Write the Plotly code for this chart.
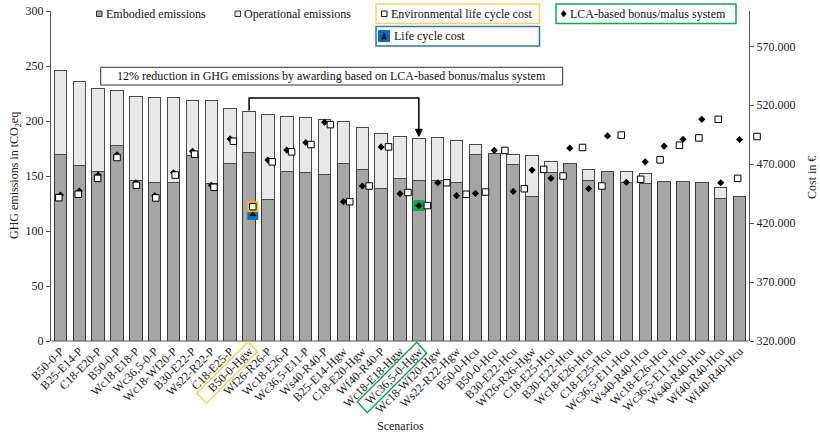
import plotly.graph_objects as go

# ---------------- data ----------------
scenarios = ["B50-0-P", "B25-E14-P", "C18-E20-P", "B50-0-P", "Wc18-E18-P", "Wc36,5-0-P",
             "Wc18-Wf20-P", "B30-E22-P", "Ws22-R22-P", "C18-E25-P", "B50-0-Hgw", "Wf26-R26-P",
             "Wc18-E26-P", "Wc36,5-E11-P", "Ws40-R40-P", "B25-E14-Hgw", "C18-E20-Hgw",
             "Wf40-R40-P", "Wc18-E18-Hgw", "Wc36,5-0-Hgw", "Wc18-Wf20-Hgw", "Ws22-R22-Hgw",
             "B50-0-Hcu", "B50-0-Hcu", "B30-E22-Hcu", "Wf26-R26-Hgw", "C18-E25-Hcu",
             "B30-E22-Hcu", "Wc18-E26-Hcu", "C18-E25-Hcu", "Wc36,5-E11-Hcu", "Ws40-R40-Hcu",
             "Wc18-E26-Hcu", "Wc36,5-E11-Hcu", "Ws40-R40-Hcu", "Wf40-R40-Hcu", "Wf40-R40-Hcu"]

embodied = [169.6, 160, 154, 178, 146, 144.5, 144.5, 169, 143.3, 161.4,
            171.4, 129, 154, 153, 151.5, 161.4, 156.3, 138.5, 148, 146.3,
            146.3, 144.5, 169.6, 170.5, 160.5, 131.6, 153.3, 161, 145.7, 154.2,
            143.9, 143.3, 144.8, 144.8, 143.9, 129.8, 131.2]

operational = [76.5, 76, 76, 50, 76.5, 76.5, 76.5, 50, 75.7, 50.4,
               37.6, 76.8, 50.5, 50, 50.3, 38.3, 37.4, 50.1, 38, 37.7,
               38.3, 38, 9.4, 0, 8.7, 37.4, 9.7, 0, 10, 0,
               10, 9.1, 0, 0, 0, 9.9, 0]

bonus_malus = [443900, 447300, 460800, 477900, 454300, 443300, 462700, 481000, 452100, 491500,
               None, 473500, 482000, 488400, 505600, 438200, 451500, 484700, 445000, 434900,
               454300, 443300, 445300, 481700, 446900, 465000, 458000, 483600, 449200, 494000,
               454600, 472000, 485300, 491200, 508100, 454300, 490900]

env_lcc = [441600, 444500, 458000, 475700, 452100, 441400, 460800, 478500, 450400, 489500,
           434000, 472000, 480500, 486700, 503600, 438200, 451500, 484700, 446000, 434900,
           454300, 444500, 446400, 481700, 449200, 465600, 460000, 484200, 451500, 494700,
           457200, 473700, 486100, 492300, 508100, 458000, 493500]

lcc = [None] * 10 + [427400] + [None] * 26

cost_ticks = [320000, 370000, 420000, 470000, 520000, 570000]
cost_ticktext = ["320.000", "370.000", "420.000", "470.000", "520.000", "570.000"]
ghg_ticks = [0, 50, 100, 150, 200, 250, 300]

elcc_pick = 10   # B50-0-Hgw
bm_pick = 19     # Wc36,5-0-Hgw

# ---------------- figure ----------------
FONT = "Liberation Serif"
W, H = 820, 433
L, T, B = 51, 11, 92
AX_RIGHT = 749          # pixel of the right value axis
R = 50                  # plot area extends a bit past the right axis (room for the last marker)
PW, PH = W - L - R, H - T - B
stretch = PW / (AX_RIGHT - L)
bar_dom = 1 / stretch

def px(x):
    return (x - L) / PW

def py(y):
    return (H - B - y) / PH

idx = list(range(len(scenarios)))
n = len(scenarios)

# category axis for bars, extended so bars keep their slot width up to the right axis
x_lo = -0.5
x_hi = x_lo + n * stretch
# secondary x scale for the cost squares (slightly stretched relative to the bars)
x2_lo, x2_span = -0.4046, 35.99
x2_hi = x2_lo + x2_span * stretch

fig = go.Figure()

fig.add_trace(go.Bar(x=idx, y=embodied, name="Embodied emissions", width=0.66,
                     marker=dict(color="#a6a6a6", line=dict(color="#3a3a3a", width=1))))
fig.add_trace(go.Bar(x=idx, y=operational, name="Operational emissions", width=0.66,
                     marker=dict(color="#e8e8e8", line=dict(color="#4a4a4a", width=1))))

# highlight of life cycle cost (blue) and environmental life cycle cost (orange)
fig.add_trace(go.Scatter(x=[elcc_pick], y=[lcc[elcc_pick]], xaxis="x2", yaxis="y2", mode="markers",
                         marker=dict(symbol="square", size=11, color="#0070c0"), cliponaxis=False,
                         hoverinfo="skip"))
fig.add_trace(go.Scatter(x=[elcc_pick], y=[env_lcc[elcc_pick]], xaxis="x2", yaxis="y2", mode="markers",
                         marker=dict(symbol="square", size=11, color="#ffc000"), cliponaxis=False,
                         hoverinfo="skip"))
fig.add_trace(go.Scatter(x=idx, y=lcc, xaxis="x2", yaxis="y2", mode="markers", name="Life cycle cost",
                         marker=dict(symbol="triangle-up", size=6, color="black"), cliponaxis=False))

# LCA-based bonus/malus (diamonds)
fig.add_trace(go.Scatter(x=idx, y=bonus_malus, yaxis="y2", mode="markers",
                         name="LCA-based bonus/malus system",
                         marker=dict(symbol="diamond", size=5.5, color="black"), cliponaxis=False))

# environmental life cycle cost (squares)
fig.add_trace(go.Scatter(x=idx, y=env_lcc, xaxis="x2", yaxis="y2", mode="markers",
                         name="Environmental life cycle cost",
                         marker=dict(symbol="square", size=6.5, color="white",
                                     line=dict(color="black", width=1)), cliponaxis=False))

# highlight of bonus/malus (green)
fig.add_trace(go.Scatter(x=[bm_pick], y=[bonus_malus[bm_pick]], yaxis="y2", mode="markers",
                         marker=dict(symbol="square", size=11, color="#00b050"), cliponaxis=False,
                         hoverinfo="skip"))
fig.add_trace(go.Scatter(x=[bm_pick], y=[bonus_malus[bm_pick]], yaxis="y2", mode="markers",
                         marker=dict(symbol="diamond", size=5.5, color="black"), cliponaxis=False,
                         hoverinfo="skip"))

axis_font = dict(family=FONT, size=12, color="#222")

fig.update_layout(
    width=W, height=H,
    margin=dict(l=L, r=R, t=T, b=B, autoexpand=False),
    paper_bgcolor="white", plot_bgcolor="white",
    barmode="stack", bargap=0.34,
    showlegend=False,
    font=dict(family=FONT, size=12, color="#222"),
    xaxis=dict(domain=[0, 1], range=[x_lo, x_hi], tickmode="array",
               tickvals=idx, ticktext=scenarios, tickangle=-45, tickfont=axis_font, automargin=False,
               showline=False, ticks="", showgrid=False, zeroline=False),
    xaxis2=dict(overlaying="x", range=[x2_lo, x2_hi], visible=False),
    yaxis=dict(range=[0, 300], tickvals=ghg_ticks, tickfont=axis_font, automargin=False,
               anchor="x", showline=True, linecolor="#555", linewidth=1, ticks="outside", ticklen=4,
               tickcolor="#555", showgrid=False, zeroline=False),
    yaxis2=dict(range=[320000, 600000], overlaying="y", side="right", anchor="free",
                position=bar_dom,
                tickvals=cost_ticks, ticktext=cost_ticktext, tickfont=axis_font, automargin=False,
                showline=True, linecolor="#555", linewidth=1, ticks="outside", ticklen=4,
                tickcolor="#555", showgrid=False, zeroline=False),
)

shapes = []
annotations = []

# bottom axis line (ends at the right value axis)
shapes.append(dict(type="line", xref="paper", yref="paper", x0=0, x1=bar_dom, y0=0, y1=0,
                   line=dict(color="#555", width=1)))

# axis titles
annotations.append(dict(text="GHG emissions in tCO<sub>2</sub>eq", xref="paper", yref="paper",
                        x=px(15), y=py(176), xanchor="center", yanchor="middle", textangle=-90,
                        showarrow=False, font=dict(family=FONT, size=12, color="#222")))
annotations.append(dict(text="Cost in €", xref="paper", yref="paper", x=px(812), y=py(178),
                        xanchor="center", yanchor="middle", textangle=-90, showarrow=False,
                        font=dict(family=FONT, size=12, color="#222")))
annotations.append(dict(text="Scenarios", xref="paper", yref="paper", x=px(400), y=py(426),
                        xanchor="center", yanchor="middle", showarrow=False,
                        font=dict(family=FONT, size=12, color="#222")))

# reduction note box
shapes.append(dict(type="rect", xref="paper", yref="paper", x0=px(100.7), x1=px(562.7),
                   y0=py(85), y1=py(67.3), line=dict(color="#333", width=1), fillcolor="white"))
annotations.append(dict(text="12% reduction in GHG emissions by awarding based on LCA-based bonus/malus system",
                        xref="paper", yref="paper", x=px(331.7), y=py(76.2), showarrow=False,
                        xanchor="center", yanchor="middle",
                        font=dict(family=FONT, size=12, color="#111")))

# arrow from B50-0-Hgw to Wc36,5-0-Hgw
shapes.append(dict(type="path", xref="x", yref="y",
                   path=f"M {elcc_pick},209.5 L {elcc_pick},221 L {bm_pick},221 L {bm_pick},192",
                   line=dict(color="black", width=1.5)))
shapes.append(dict(type="path", xref="x", yref="y",
                   path=f"M {bm_pick - 0.18},192.5 L {bm_pick + 0.18},192.5 L {bm_pick},186 Z",
                   fillcolor="black", line=dict(color="black", width=1)))

# rotated highlight boxes around tick labels
def rot_box(pts, color):
    d = "M " + " L ".join(f"{px(x)},{py(y)}" for x, y in pts) + " Z"
    return dict(type="path", xref="paper", yref="paper", path=d, line=dict(color=color, width=1.5))

shapes.append(rot_box([(248.3, 341.7), (257.3, 351.7), (206.7, 403.3), (196.7, 393.3)], "#ffd24d"))
shapes.append(rot_box([(416.7, 342.3), (426.7, 353.3), (367.3, 412.7), (357.3, 401.7)], "#00b050"))

# ----- legend (custom) -----
def rect(x0, y0, x1, y1, fill=None, line="#333", lw=1):
    return dict(type="rect", xref="paper", yref="paper", x0=px(x0), x1=px(x1), y0=py(y1), y1=py(y0),
                fillcolor=fill if fill else "rgba(0,0,0,0)", line=dict(color=line, width=lw))

def label(x, y, text):
    return dict(text=text, xref="paper", yref="paper", x=px(x), y=py(y), xanchor="left",
                yanchor="middle", showarrow=False, font=dict(family=FONT, size=12, color="#111"))

shapes.append(rect(96.5, 11, 102, 16.5, fill="#a6a6a6", line="#333"))
annotations.append(label(104, 13.8, "Embodied emissions"))
shapes.append(rect(235, 11, 240.5, 16.5, fill="#e8e8e8", line="#333"))
annotations.append(label(242, 13.8, "Operational emissions"))

shapes.append(rect(376, 4, 539.5, 23.5, line="#ffd24d", lw=1.5))
shapes.append(rect(381.5, 11, 387, 16.5, fill="white", line="#111"))
annotations.append(label(389, 13.8, "Environmental life cycle cost"))

shapes.append(rect(376, 26.5, 539.5, 46, line="#2e75b6", lw=1.5))
shapes.append(rect(378.5, 30.5, 389.5, 41.5, fill="#0070c0", line="#0070c0"))
shapes.append(dict(type="path", xref="paper", yref="paper",
                   path=f"M {px(381.5)},{py(39)} L {px(386.5)},{py(39)} L {px(384)},{py(33)} Z",
                   fillcolor="black", line=dict(color="black", width=0.5)))
annotations.append(label(391.5, 35.8, "Life cycle cost"))

shapes.append(rect(556, 4, 736, 23.5, line="#00b050", lw=1.5))
shapes.append(dict(type="path", xref="paper", yref="paper",
                   path=f"M {px(563.7)},{py(10.5)} L {px(566.3)},{py(13.8)} L {px(563.7)},{py(17)} L {px(561.1)},{py(13.8)} Z",
                   fillcolor="black", line=dict(color="black", width=0.5)))
annotations.append(label(568, 13.8, "LCA-based bonus/malus system"))

fig.update_layout(shapes=shapes, annotations=annotations)

fig.write_html("out.html", config={"displayModeBar": False, "staticPlot": True})

# remove the browser's default page margin so the figure sits at (0, 0)
with open("out.html", "r", encoding="utf-8") as f:
    html = f.read()
html = html.replace("<head>", "<head><style>html,body{margin:0;padding:0;overflow:hidden;}</style>", 1)
with open("out.html", "w", encoding="utf-8") as f:
    f.write(html)
